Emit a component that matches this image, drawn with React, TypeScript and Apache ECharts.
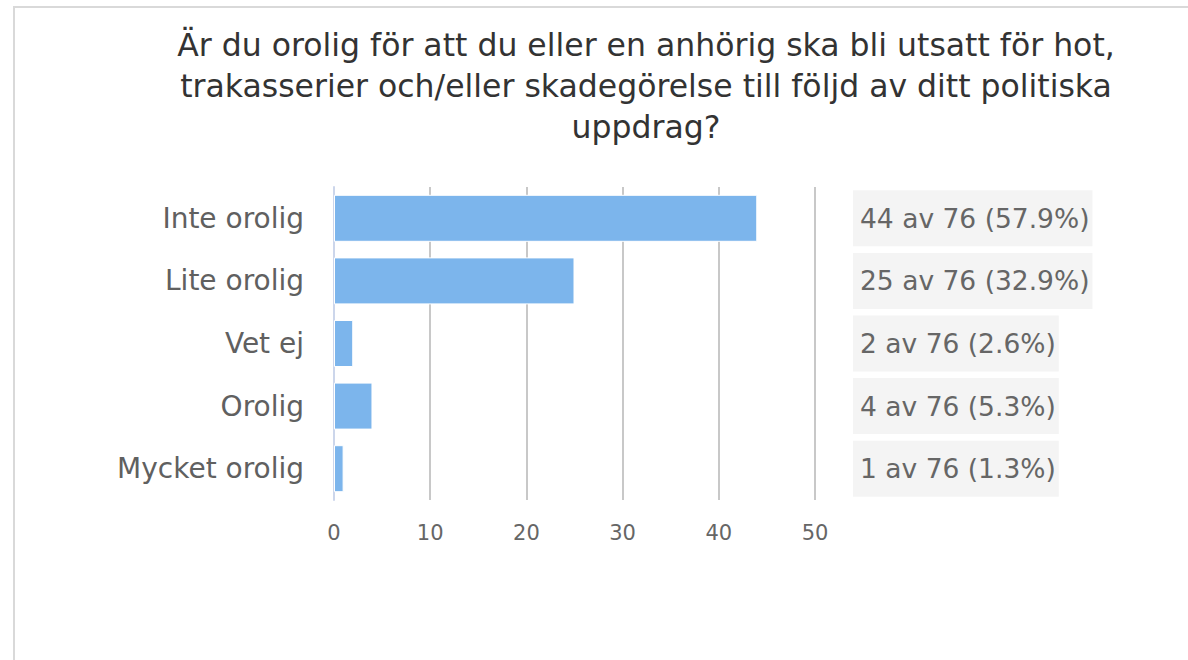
import React, { useEffect, useRef } from "react";
import * as echarts from "echarts";

const titleLines = [
  "Är du orolig för att du eller en anhörig ska bli utsatt för hot,",
  "trakasserier och/eller skadegörelse till följd av ditt politiska",
  "uppdrag?",
];
const categories = ["Inte orolig", "Lite orolig", "Vet ej", "Orolig", "Mycket orolig"];
const counts = [44, 25, 2, 4, 1];
const total = 76;
const xTicks = { min: 0, max: 50, interval: 10 };

const FONT = "DejaVu Sans";

export default function App() {
  const ref = useRef<HTMLDivElement>(null);
  useEffect(() => {
    document.body.style.margin = "0";
    const chart = echarts.init(ref.current!, null, { renderer: "svg" });
    const boxLabels = counts.map(
      (v) => `${v} av ${total} (${((v / total) * 100).toFixed(1)}%)`
    );
    chart.setOption({
      animation: false,
      backgroundColor: "#ffffff",
      title: {
        text: titleLines.join("\n"),
        left: 641,
        top: 19,
        textAlign: "center",
        textStyle: {
          fontFamily: FONT,
          fontSize: 31.5,
          fontWeight: "normal",
          color: "#333333",
          lineHeight: 41,
        },
      },
      graphic: [
        {
          type: "rect",
          shape: { x: 14, y: 7, width: 1400, height: 1000 },
          style: { fill: "none", stroke: "#d9d9d9", lineWidth: 2 },
          silent: true,
        },
      ],
      grid: { left: 334, right: 373, top: 187, bottom: 160, containLabel: false },
      xAxis: {
        type: "value",
        min: xTicks.min,
        max: xTicks.max,
        interval: xTicks.interval,
        axisLine: { show: false },
        axisTick: { show: false },
        splitLine: { show: true, lineStyle: { color: "#c8c8c8", width: 2 } },
        axisLabel: {
          fontFamily: FONT,
          fontSize: 21,
          color: "#666666",
          margin: 22,
        },
      },
      yAxis: [
        {
          type: "category",
          data: categories,
          inverse: true,
          axisLine: { show: true, lineStyle: { color: "#ccd6eb", width: 2 } },
          axisTick: { show: false },
          axisLabel: {
            fontFamily: FONT,
            fontSize: 28,
            color: "#606060",
            margin: 30,
          },
        },
        {
          type: "category",
          data: categories,
          inverse: true,
          position: "right",
          axisLine: { show: false },
          axisTick: { show: false },
          axisLabel: {
            fontFamily: FONT,
            fontSize: 26.5,
            lineHeight: 30,
            color: "#666666",
            margin: 38,
            align: "left",
            backgroundColor: "#f4f4f4",
            padding: [14, 3, 12, 7],
            formatter: (_v: string, i: number) => boxLabels[i],
          },
        },
      ],
      series: [
        {
          type: "bar",
          data: counts,
          yAxisIndex: 0,
          barWidth: 47,
          itemStyle: { color: "#7cb5ec", borderColor: "#ffffff", borderWidth: 1 },
        },
      ],
    });
    return () => chart.dispose();
  }, []);
  return <div ref={ref} style={{ width: 1188, height: 660 }} />;
}
